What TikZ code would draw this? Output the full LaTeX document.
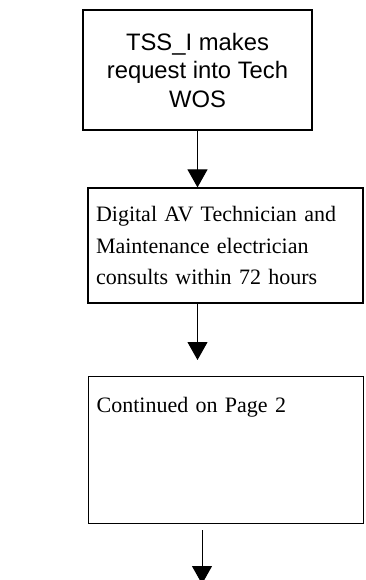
\documentclass[tikz,border=0pt]{standalone}
\usepackage{fontspec}
\setmainfont{Liberation Serif}
\newfontfamily\boxsans{Liberation Sans}
\usetikzlibrary{arrows.meta}
\usetikzlibrary{positioning}
\def\TssRequest{TSS\_I makes\\ request into Tech\\ WOS}
\def\TechConsult{Digital AV Technician and\\ Maintenance electrician\\ consults within 72 hours}
\def\ContinuedPage{Continued on Page 2}

\begin{document}
\begin{tikzpicture}[x=1pt, y=-1pt,
                    every node/.style={draw, line width=1.2pt},
                    flowarrow/.style={-{Triangle[width=20pt,length=18pt]}, line width=1pt}]

    \useasboundingbox (0,0) rectangle (365,580);
    \node (tss) [minimum width=229pt, minimum height=120pt, align=center,
                 font=\boxsans\fontsize{23.8}{28.5}\selectfont] at (197.5,70) {\TssRequest};
    \node (tech) [text width=259pt, inner xsep=8pt, minimum height=115pt, align=left,
                  font=\fontsize{22}{31.5}\selectfont] at (225.5,245.5) {\TechConsult};
    \node (cont) [anchor=north west, text width=259pt, inner xsep=8pt, inner ysep=14pt,
                  text height=22pt, text depth=97pt, align=left,
                  font=\fontsize{22}{31.5}\selectfont] at (88,376) {\ContinuedPage};
    \coordinate (nextpage) at (202,584);
    \draw[flowarrow] (tss.south) -- (tss.south |- tech.north);
    \draw[flowarrow, shorten >=16pt] (tss.south |- tech.south) -- (tss.south |- cont.north);
    \draw[flowarrow, shorten <=6pt] (nextpage |- cont.south) -- (nextpage);
\end{tikzpicture}
\end{document}
